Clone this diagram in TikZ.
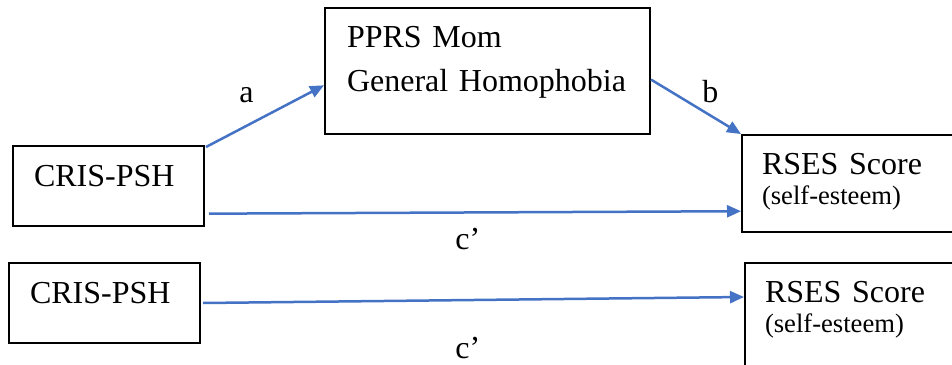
\documentclass[tikz,border=0pt]{standalone}
\usepackage{fontspec}
\setmainfont{Liberation Serif}
\usepackage{xcolor}
\usetikzlibrary{arrows.meta,positioning,calc}
\definecolor{arrowblue}{HTML}{4472C4}

\begin{document}
\begin{tikzpicture}[
x=0.5pt, y=-0.5pt,
varbox/.style={draw, line width=1pt, anchor=north west, align=left, inner ysep=0pt, font=\fontsize{16}{22}\selectfont},
predbox/.style={varbox, minimum width=95.5pt, minimum height=40pt, inner xsep=10.5pt, text width=74.5pt, text height=20pt, text depth=20pt},
medbox/.style={varbox, minimum width=162.5pt, minimum height=63pt, inner xsep=11pt, text width=140.5pt, text height=19.5pt, text depth=43.5pt},
outbox/.style={varbox, minimum width=130pt, inner xsep=10pt, text width=110pt, text height=19.5pt, font=\fontsize{16}{15}\selectfont},
lbl/.style={anchor=base west, inner sep=0pt, font=\fontsize{16}{22}\selectfont},
conn/.style={-{Triangle[length=7pt,width=6pt]}, line width=1.25pt, draw=arrowblue}
]
\clip (0,0) rectangle (952,364);
% full model
\node[predbox] (cris1) at (12,145) {CRIS-PSH};
\node[medbox] (pprs) at (324,7) {PPRS Mom\\General Homophobia};
\node[outbox, minimum height=48.5pt, text depth=29pt] (rses1) at (741,134) {RSES Score\\{\fontsize{13.3}{15}\selectfont (self-esteem)}};
\node[lbl] (la) at (239,102) {a};
\node[lbl] (lb) at (702,102) {b};
\node[lbl] (lc1) at (455,249) {c’};
\draw[conn] ([xshift=0.5pt,yshift=-1pt]cris1.north east) -- (pprs.185);
\draw[conn] (pprs.-3) -- (rses1.north west);
\draw[conn] ([xshift=2pt]cris1.-16) -- ($(rses1.south west)!0.22!(rses1.north west)$);
% direct effect only
\node[predbox] (cris2) at (8,262) {CRIS-PSH};
\node[outbox, minimum height=55pt, text depth=35pt] (rses2) at (744,262) {RSES Score\\{\fontsize{13.3}{15}\selectfont (self-esteem)}};
\node[lbl] (lc2) at (455,358) {c’};
\draw[conn] ([xshift=1pt]cris2.east) -- ($(rses2.north west)+(0,35)$);
\end{tikzpicture}
\end{document}
